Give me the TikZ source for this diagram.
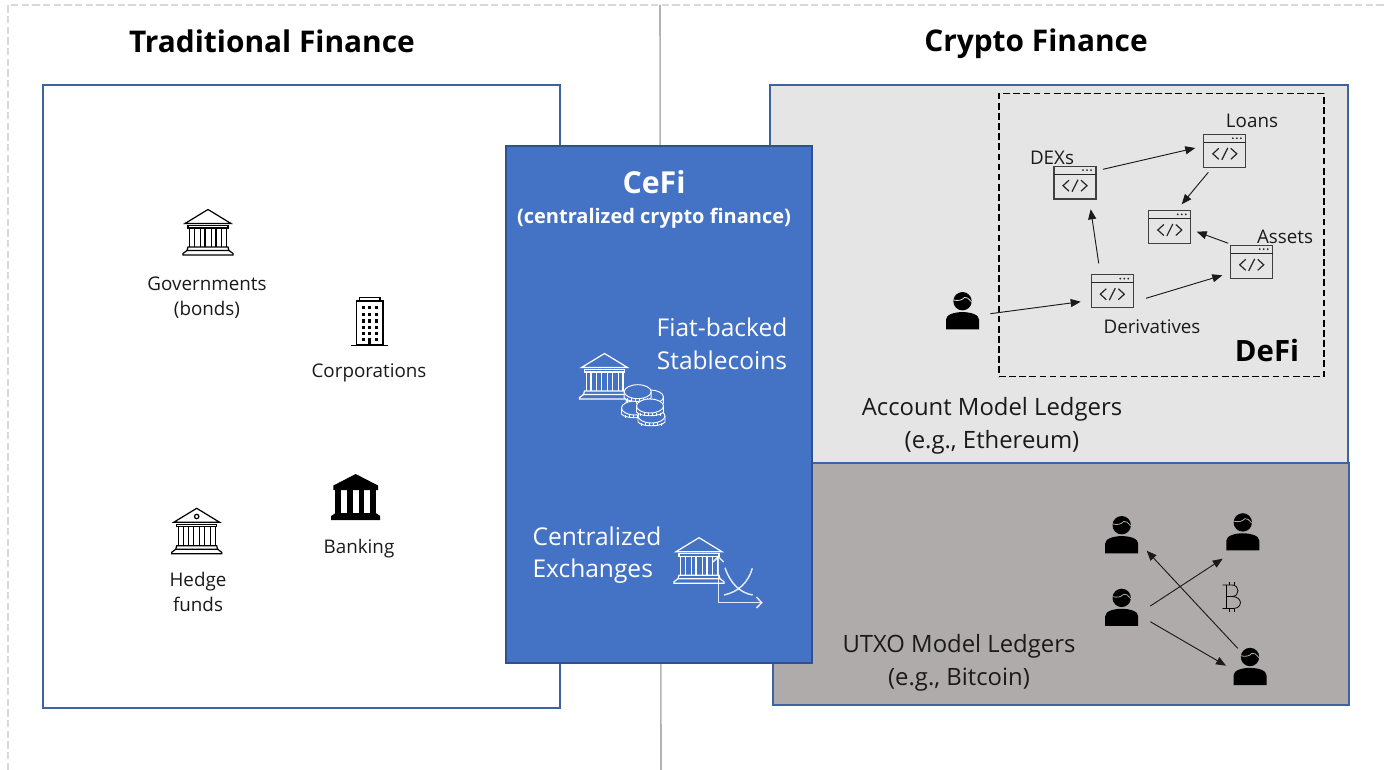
\documentclass[tikz,border=0pt]{standalone}
\usepackage{fontspec}
\setmainfont{Open Sans}
\usetikzlibrary{arrows.meta,calc}
\definecolor{framecol}{HTML}{3F62A3}
\definecolor{cefiblue}{HTML}{4472C4}
\definecolor{cefiedge}{HTML}{2F528F}
\definecolor{lightgrey}{HTML}{E5E5E5}
\definecolor{midgrey}{HTML}{AFABAB}
\definecolor{inkcol}{HTML}{1A1A1A}
\tikzset{
  panel/.style={draw=framecol,line width=1.2pt},
  flowarrow/.style={draw=inkcol,line width=0.7pt,-{Triangle[length=7.5pt,width=6pt]}},
  lbl/.style={text=inkcol,font=\fontsize{14.1pt}{18.8pt}\selectfont,align=center,inner sep=0pt},
  biglbl/.style={text=inkcol,font=\fontsize{17.9pt}{24.4pt}\selectfont,align=center,inner sep=0pt},
  cefilbl/.style={text=white,font=\fontsize{18.4pt}{24.4pt}\selectfont,align=center,inner sep=0pt},
  headlbl/.style={text=black,font=\fontsize{22.4pt}{26pt}\selectfont\bfseries,inner sep=0pt},
  winbox/.style={draw=black!75,line width=1pt,minimum width=31.5pt,minimum height=24.6pt,inner sep=0pt,outer sep=0pt},
  personbox/.style={minimum width=24.75pt,minimum height=28.1pt,inner sep=0pt,outer sep=0pt},
}
% outline bank: x, y of apex, colour, extra dot (0/1)
\newcommand{\outlinebank}[4]{%
  \begin{scope}[shift={(#1,#2)},draw=#3,line width=0.9pt,line join=miter]
    \draw (0,0)--(-23,14)--(23,14)--cycle;
    \draw (-20,16) rectangle (20,18.5);
    \foreach \cx in {-16,-5.5,5.5,16}{\draw (\cx-2.4,18.5)--(\cx-2.4,37) (\cx+2.4,18.5)--(\cx+2.4,37);}
    \draw (-20,37.5)--(20,37.5)--(21,41)--(-21,41)--cycle;
    \draw (-21,41)--(-25,44)--(-25,45.5)--(25,45.5)--(25,44)--(21,41);
    \ifnum#4=1 \draw (0,8.2) circle (2.2);\fi
  \end{scope}}
\newcommand{\solidbank}[2]{%
  \begin{scope}[shift={(#1,#2)}]
    \fill[black] (0,0)--(22.3,11.5)--(22.3,16)--(-22.3,16)--(-22.3,11.5)--cycle;
    \foreach \cx in {-17.5,-5.8,5.8,17.5}{\fill[black] (\cx-2.8,15) rectangle (\cx+2.8,40);}
    \fill[black] (-20,39)--(20,39)--(24.5,42)--(24.5,46)--(-24.5,46)--(-24.5,42)--cycle;
  \end{scope}}
\newcommand{\windowicon}[3]{%
  \node[winbox] (#1) at (#2,#3) {};
  \begin{scope}[shift={(#2,#3)},line width=0.85pt,draw=black!85]
    \draw (-21.2,-8.4)--(21.2,-8.4);
    \fill[black!85] (8,-12.6) circle (1) (12,-12.6) circle (1) (16,-12.6) circle (1);
    \draw[line width=0.9pt] (-6,-2.5)--(-12,3)--(-6,8.5) (6,-2.5)--(12,3)--(6,8.5) (-3,9)--(3,-3);
  \end{scope}}
\newcommand{\personicon}[4]{%
  \node[personbox] (#1) at (#2,#3) {};
  \begin{scope}[shift={(#2,#3)}]
    \fill[black] (0,-9.3) circle (9.2);
    \fill[black] (-16.5,18.75)--(-16.5,9) .. controls (-16.5,4) and (-8,1.6) .. (0,1.6) .. controls (8,1.6) and (16.5,4) .. (16.5,9)--(16.5,18.75)--cycle;
    \draw[#4,line width=0.6pt] (-9,-10.5) .. controls (-4,-9.5) and (-1,-10) .. (2,-13) .. controls (4,-14) and (6,-12) .. (9,-8.5);
  \end{scope}}
\newcommand{\coin}[2]{%
  \fill[cefiblue] (#1-13.5,#2) -- (#1-13.5,#2+6) .. controls (#1-10,#2+11) and (#1+10,#2+11) .. (#1+13.5,#2+6) -- (#1+13.5,#2) -- cycle;
  \draw[white,line width=0.7pt,fill=cefiblue] (#1,#2) ellipse [x radius=13.5,y radius=7];
  \draw[white,line width=0.7pt] (#1-13.5,#2) -- (#1-13.5,#2+6) .. controls (#1-10,#2+11) and (#1+10,#2+11) .. (#1+13.5,#2+6) -- (#1+13.5,#2);
  \foreach \k in {-10,-6,-2,2,6,10}{\draw[white,line width=0.5pt] (#1+\k,#2+6.5)--(#1+\k,#2+10);}
}
\begin{document}
\begin{tikzpicture}[x=0.75pt,y=-0.75pt]
\useasboundingbox (0,0) rectangle (1384,770);
% guide lines
\coordinate (guidetop) at (660,5);
\coordinate (guidebot) at (661,770);
\draw[black!30,line width=1.2pt] (guidetop)--(guidebot);
\coordinate (dashleftbot) at (8,770);
\coordinate (dashcorner) at (8,5);
\coordinate (dashright) at (1384,5);
\draw[black!15,line width=1.1pt,dash pattern=on 5.5pt off 2.5pt] (dashleftbot)--(dashcorner)--(dashright);
% panels
\node[panel,fill=white,minimum width=387.75pt,minimum height=467.25pt,inner sep=0pt] (tradbox) at (301.5,396.5) {};
\node[panel,fill=lightgrey,minimum width=433.5pt,minimum height=283.5pt,inner sep=0pt] (accbox) at (1059,274) {};
\node[panel,fill=midgrey,minimum width=432pt,minimum height=181.5pt,inner sep=0pt] (utxobox) at (1061,584) {};
\node[draw=cefiedge,line width=1.1pt,fill=cefiblue,minimum width=229.5pt,minimum height=387.75pt,inner sep=0pt] (cefibox) at (659,404.5) {};
\node[draw=black,line width=0.85pt,dash pattern=on 5pt off 2.6pt,minimum width=243.75pt,minimum height=212.25pt,inner sep=0pt] (defibox) at (1161.5,235) {};
% headings
\node[headlbl] (tradhead) at (272,41) {Traditional Finance};
\node[headlbl] (cryptohead) at (1036,44) {Crypto Finance};
% traditional labels
\outlinebank{208}{209.5}{black}{0}
\node[lbl] (govlbl) at (207,298) {Governments\\(bonds)};
\node[lbl] (corplbl) at (369,373) {Corporations};
\outlinebank{196.7}{508.3}{black}{1}
\node[lbl] (hedgelbl) at (198,591.5) {Hedge\\funds};
\solidbank{355.7}{474}
\node[lbl] (banklbl) at (359,549) {Banking};
% corporation building
\begin{scope}[line width=0.8pt,draw=black]
  \draw (359.3,301) rectangle (380,297.3);
  \draw (356.3,345) rectangle (383,301);
  \draw[line width=1pt] (351.3,345.3)--(387.7,345.3);
  \foreach \wx in {363.3,369.6,376.3}
    \foreach \wy in {307.7,314.5,321,327.3,333.3,339.3}
      \fill[black] (\wx-1.5,\wy-1.7) rectangle (\wx+1.5,\wy+1.7);
  \fill[black] (368,339) rectangle (371,345);
\end{scope}
% CeFi
\node[text=white,font=\fontsize{22.7pt}{26pt}\selectfont\bfseries,inner sep=0pt] (cefititle) at (654,182) {CeFi};
\node[text=white,font=\fontsize{15pt}{18pt}\selectfont\bfseries,inner sep=0pt] (cefisub) at (654,218) {(centralized crypto finance)};
\node[cefilbl] (fiatlbl) at (722,344) {Fiat-backed\\Stablecoins};
\node[cefilbl,align=left] (cexlbl) at (597,555) {Centralized\\Exchanges};
\outlinebank{604.5}{353.5}{white}{0}
\coin{639.5}{399}
\coin{635}{408}
\coin{650}{397}
\coin{651.5}{416}
\coin{637.7}{391.7}
\coin{650}{406}
\outlinebank{699}{537.7}{white}{0}
\begin{scope}[white,line width=1.1pt,opacity=0.85]
  \draw (713,562)--(718.3,556.7)--(723.6,562);
  \draw (718.3,556.7)--(718.3,602.7)--(761.7,602.7);
  \draw (756.5,597)--(761.7,602.7)--(756.5,608);
  \draw (725,567.7) .. controls (730,583) and (740,593) .. (752.7,595);
  \draw (724,595) .. controls (738,592) and (748,583) .. (752.3,568.3);
\end{scope}
% DeFi
\windowicon{dexwin}{1075}{182.7}
\windowicon{loanwin}{1224.8}{150.8}
\windowicon{midwin}{1169.8}{227}
\windowicon{assetwin}{1251.7}{261.8}
\windowicon{derivwin}{1112.3}{291.2}
\personicon{defiuser}{962.5}{310.5}{lightgrey}
\node[lbl] (dexlbl) at (1052,158) {DEXs};
\node[lbl] (loanlbl) at (1252,121) {Loans};
\node[lbl] (assetlbl) at (1285,237) {Assets};
\node[lbl] (derivlbl) at (1152,327) {Derivatives};
\node[font=\fontsize{22pt}{26pt}\selectfont\bfseries,text=black,inner sep=0pt] (defilbl) at (1267,350) {DeFi};
\node[biglbl] (acclbl) at (992,426) {Account Model Ledgers\\(e.g., Ethereum)};
\node[biglbl] (utxolbl) at (959,663) {UTXO Model Ledgers\\(e.g., Bitcoin)};
\draw[flowarrow] ($(defiuser)+(27.8,3.2)$)--($(derivwin)+(-31.6,10.5)$);
\draw[flowarrow] ($(derivwin)+(-13.6,-27.9)$)--($(dexwin)+(15.7,26.6)$);
\draw[flowarrow] ($(dexwin)+(28,-13.4)$)--($(loanwin)+(-29.5,-2.8)$);
\draw[flowarrow] ($(loanwin)+(-16.5,21.5)$)--($(midwin)+(11.9,-22.7)$);
\draw[flowarrow] ($(assetwin)+(-23.4,-18.5)$)--($(midwin)+(26.9,4.7)$);
\draw[flowarrow] ($(derivwin)+(33.7,7.1)$)--($(assetwin)+(-29.4,13.5)$);
% UTXO
\personicon{utxoa}{1121.7}{534.5}{midgrey}
\personicon{utxob}{1242.8}{531.7}{midgrey}
\personicon{utxoc}{1121.7}{607.2}{midgrey}
\personicon{utxod}{1250}{666.3}{midgrey}
\draw[flowarrow] ($(utxoc)+(28.6,-1.2)$)--($(utxob)+(-20.1,27)$);
\draw[flowarrow] ($(utxoc)+(28.6,14.5)$)--($(utxod)+(-24,-0.6)$);
\draw[flowarrow] ($(utxod)+(-12.3,-18)$)--($(utxoa)+(25,16.2)$);
% bitcoin glyph
\begin{scope}[draw=black,line width=0.6pt,double=midgrey,double distance=1.4pt]
  \draw (1226.5,585)--(1226.5,608.5);
  \draw (1222.5,585)--(1232,585) .. controls (1240,585) and (1240,596.5) .. (1232,596.5) -- (1227,596.5);
  \draw (1232,596.5) .. controls (1243,596.5) and (1243,608.5) .. (1233,608.5) -- (1222.5,608.5);
  \draw (1229,582)--(1229,585) (1234.5,582)--(1234.5,585) (1229,608.5)--(1229,612) (1234.5,608.5)--(1234.5,612);
\end{scope}
\end{tikzpicture}
\end{document}
